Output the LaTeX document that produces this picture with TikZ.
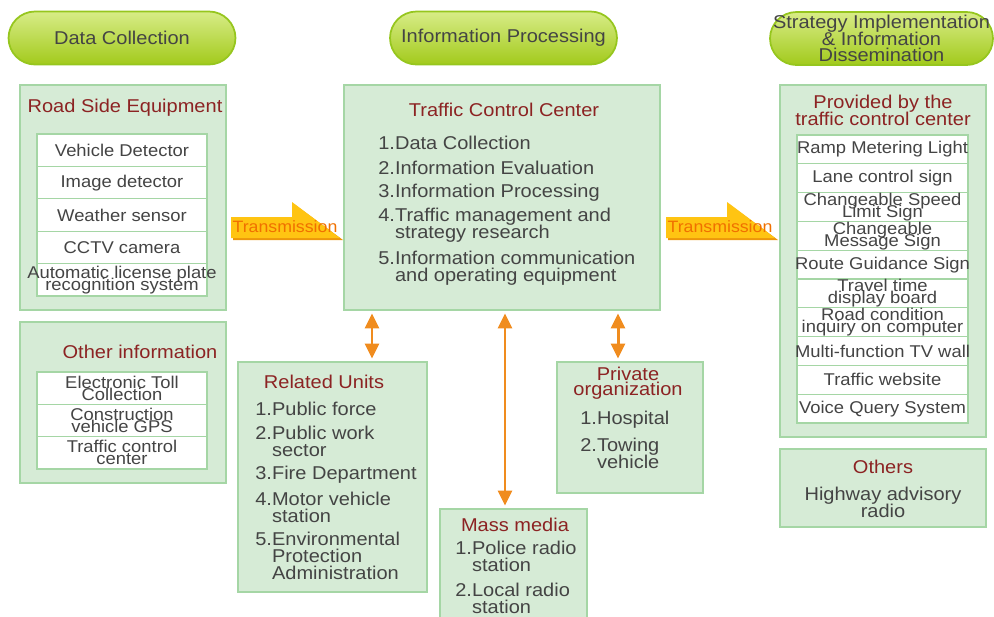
\documentclass[tikz,border=0pt]{standalone}
\usepackage{fontspec}
\setmainfont{Liberation Sans}[FakeStretch=1.08]
\usetikzlibrary{arrows.meta,calc}
\definecolor{panelfill}{RGB}{214,235,214}
\definecolor{panelline}{RGB}{165,214,165}
\definecolor{titlered}{RGB}{140,35,35}
\definecolor{txtgray}{RGB}{68,68,68}
\definecolor{pilltop}{RGB}{216,236,135}
\definecolor{pillbot}{RGB}{162,202,28}
\definecolor{pillline}{RGB}{150,198,30}
\definecolor{arroworange}{RGB}{240,140,30}
\definecolor{transfill}{RGB}{255,196,18}
\definecolor{transshade}{RGB}{236,150,10}
\definecolor{transink}{RGB}{240,112,0}
\newcommand{\mainsize}{\fontsize{10.55}{9.6}\selectfont\lineskiplimit=-20pt\relax}
\newcommand{\pillsize}{\fontsize{10.55}{9.4}\selectfont\lineskiplimit=-20pt\relax}
\newcommand{\privsize}{\fontsize{10.55}{8.6}\selectfont\lineskiplimit=-20pt\relax}
\newcommand{\cellsize}{\fontsize{9.7}{6.7}\selectfont\lineskiplimit=-20pt\relax}
\newcommand{\transsize}{\fontsize{9.35}{10}\selectfont}

\begin{document}
\begin{tikzpicture}[
  x=0.02cm, y=-0.02cm,
  font=\mainsize, text=txtgray,
  pill/.style={draw=pillline, line width=1pt, top color=pilltop, bottom color=pillbot,
               rounded corners=0.53cm, minimum width=#1, minimum height=1.06cm,
               inner sep=0pt, align=center},
  panel/.style={draw=panelline, line width=1.1pt, fill=panelfill, inner sep=0pt},
  heading/.style={text=titlered, align=center, inner sep=0pt},
  listitem/.style={anchor=west, align=left, inner sep=0pt},
  cell/.style={draw=panelline, line width=0.7pt, fill=white},
  celltext/.style={font=\cellsize, align=center, inner sep=0pt},
  transtext/.style={font=\transsize, text=transink, inner sep=0pt},
  biarrow/.style={{Triangle[width=0.28cm,length=0.3cm]}-{Triangle[width=0.28cm,length=0.3cm]},
                  draw=arroworange, line width=1.7pt, shorten <=0.05cm, shorten >=0.05cm}
]
\clip (0,0) rectangle (994,616);
% Stage headers
\node[pill=4.54cm] (dc) at (122,38) {Data Collection};
\node[pill=4.54cm] (ip) at (503.5,38) {Information Processing};
\node[pill=4.46cm, font=\pillsize] (si) at (881.5,38.5)
  {Strategy Implementation\\\& Information\\Dissemination};
% Left column: data sources
\node[panel, minimum width=4.12cm, minimum height=4.5cm] (rse) at (123,197.5) {};
\node[heading] (rse-t) at (125,108) {Road Side Equipment};
\foreach \t [count=\i] in {Vehicle Detector, Image detector, Weather sensor, CCTV camera,
    {Automatic license plate\\recognition system}} {
  \draw[cell] (37,{134+(\i-1)*32.4}) rectangle ++(170,32.4);
  \node[celltext] (rse-\i) at (122,{134+(\i-0.5)*32.4}) {\t};
}
\node[panel, minimum width=4.12cm, minimum height=3.22cm] (oth) at (123,402.5) {};
\node[heading] (oth-t) at (140,352) {Other information};
\foreach \t [count=\i] in {{Electronic Toll\\Collection}, {Construction\\vehicle GPS},
    {Traffic control\\center}} {
  \draw[cell] (37,{372+(\i-1)*32.3}) rectangle ++(170,32.3);
  \node[celltext] (oth-\i) at (122,{372+(\i-0.5)*32.3}) {\t};
}
% Transmission arrows
\foreach \dx [count=\i] in {0,435} {
  \fill[transshade] (\dx+233,219) -- (\dx+294,219) -- (\dx+294,204) -- (\dx+343,240)
    -- (\dx+233,240) -- cycle;
  \fill[transfill] (\dx+231,217) -- (\dx+292,217) -- (\dx+292,202) -- (\dx+340,238)
    -- (\dx+231,238) -- cycle;
  \node[transtext] (trans-\i) at (\dx+285,227) {Transmission};
}
% Middle: control center
\node[panel, minimum width=6.32cm, minimum height=4.5cm] (tcc) at (502,197.5) {};
\node[heading] (tcc-t) at (504,110) {Traffic Control Center};
\foreach \y/\t [count=\i] in {143/{1.Data Collection}, 168/{2.Information Evaluation},
    193/{3.Information Processing},
    225.5/{4.Traffic management and\\\phantom{4.}strategy research},
    268.5/{5.Information communication\\\phantom{5.}and operating equipment}}
  \node[listitem] (tcc-\i) at (378,\y) {\t};
% Related units
\node[panel, minimum width=3.78cm, minimum height=4.6cm] (rel) at (332.5,477) {};
\node[heading] (rel-t) at (324,382) {Related Units};
\foreach \y/\t [count=\i] in {409/{1.Public force}, 441/{2.Public work\\\phantom{2.}sector},
    475/{3.Fire Department}, 507/{4.Motor vehicle\\\phantom{4.}station},
    556/{5.Environmental\\\phantom{5.}Protection\\\phantom{5.}Administration}}
  \node[listitem] (rel-\i) at (255,\y) {\t};
% Mass media
\node[panel, minimum width=2.94cm, minimum height=2.62cm] (mass) at (513.5,574.5) {};
\node[heading] (mass-t) at (515,525) {Mass media};
\foreach \y/\t [count=\i] in {556.5/{1.Police radio\\\phantom{1.}station},
    598/{2.Local radio\\\phantom{2.}station}}
  \node[listitem] (mass-\i) at (455,\y) {\t};
% Private organization
\node[panel, minimum width=2.92cm, minimum height=2.62cm] (priv) at (630,427.5) {};
\node[heading, font=\privsize] (priv-t) at (628,383) {Private\\organization};
\foreach \y/\t [count=\i] in {420/{1.Hospital}, 453.5/{2.Towing\\\phantom{2.}vehicle}}
  \node[listitem] (priv-\i) at (580,\y) {\t};
% Links to the control center
\draw[biarrow] ($(tcc.south -| rel.north)+(39.5,0)$) -- ($(rel.north)+(39.5,0)$);
\draw[biarrow] ($(tcc.south -| mass.north)+(-8.5,0)$) -- ($(mass.north)+(-8.5,0)$);
\draw[biarrow] ($(tcc.south -| priv.north)+(-12,0)$) -- ($(priv.north)+(-12,0)$);
% Right column: dissemination
\node[panel, minimum width=4.12cm, minimum height=7.04cm] (prov) at (883,261) {};
\node[heading] (prov-t) at (883,110.5) {Provided by the\\traffic control center};
\foreach \t [count=\i] in {Ramp Metering Light, Lane control sign,
    {Changeable Speed\\Limit Sign}, {Changeable\\Message Sign}, Route Guidance Sign,
    {Travel time\\display board}, {Road condition\\inquiry on computer},
    Multi-function TV wall, Traffic website, Voice Query System} {
  \draw[cell] (797,{135+(\i-1)*28.8}) rectangle ++(171,28.8);
  \node[celltext] (prov-\i) at (882.5,{135+(\i-0.5)*28.8}) {\t};
}
\node[panel, minimum width=4.12cm, minimum height=1.56cm] (others) at (883,488) {};
\node[heading] (others-t) at (883,467) {Others};
\node[align=center, inner sep=0pt] (others-1) at (883,502.5) {Highway advisory\\radio};
\end{tikzpicture}
\end{document}
